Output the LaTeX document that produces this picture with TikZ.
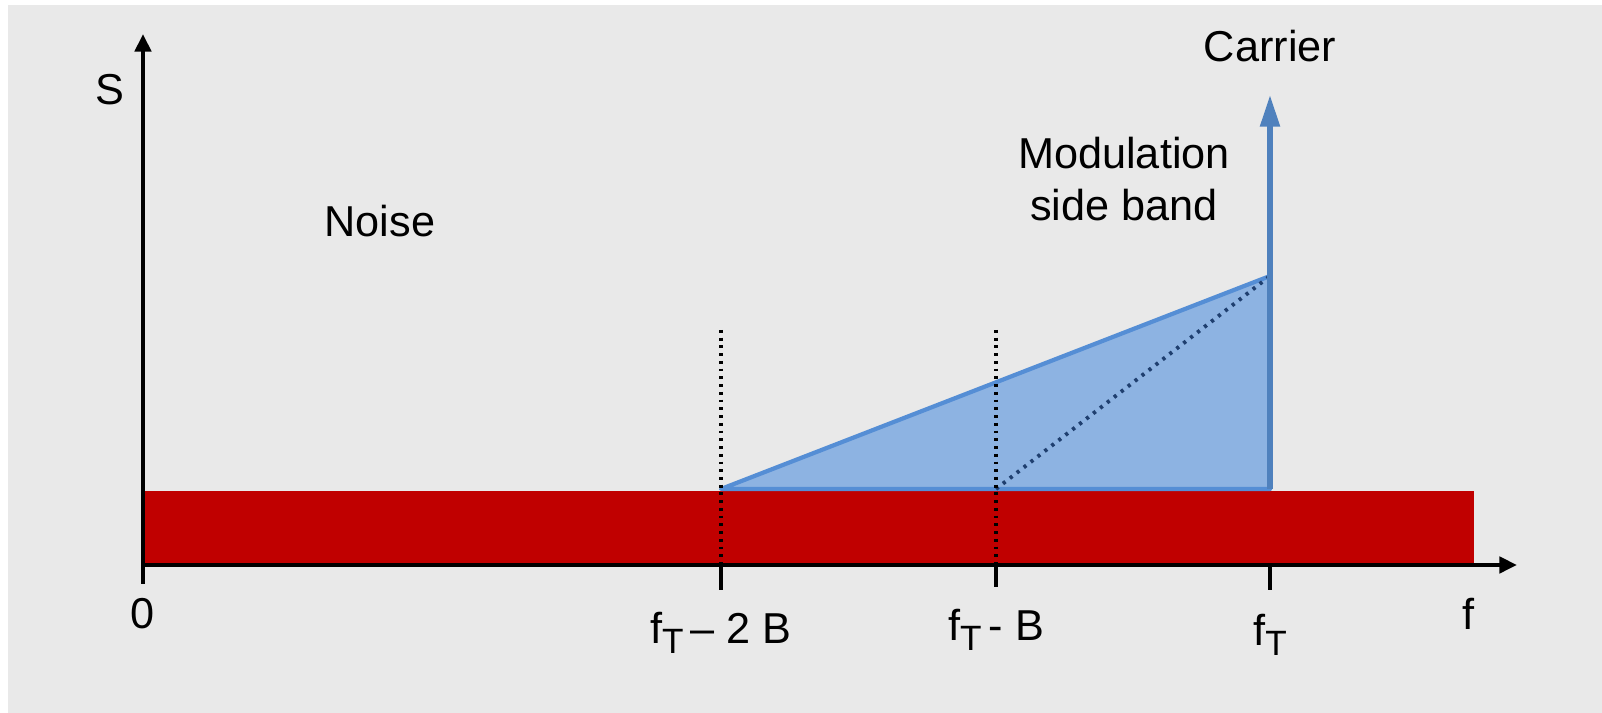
\documentclass[tikz,border=0pt]{standalone}
\usepackage{fontspec}
\setmainfont{Liberation Sans}
\usetikzlibrary{arrows.meta}
\definecolor{bg}{HTML}{E9E9E9}
\definecolor{noisered}{HTML}{C00000}
\definecolor{bandfill}{HTML}{8DB3E2}
\definecolor{bandline}{HTML}{558ED5}
\definecolor{carrierblue}{HTML}{4F81BD}
\definecolor{darkdot}{HTML}{1F3F6F}
\newcommand{\subT}{\raisebox{-0.45ex}{\fontsize{10}{11}\selectfont T}}
\tikzset{
  lbl/.style={font=\fontsize{12.3}{15}\selectfont, inner sep=0pt, anchor=center},
  axisline/.style={line width=1.1pt, black},
  tickline/.style={line width=0.9pt, black},
  guide/.style={line width=1.1pt, black, dash pattern=on 0.8pt off 1.4pt},
}
\begin{document}
\begin{tikzpicture}[x=0.01cm,y=-0.01cm]
\useasboundingbox (0,0) rectangle (1602,713);
\fill[white] (0,0) rectangle (1602,713);
\fill[bg] (8,5) rectangle (1602,713);
% noise band
\fill[noisered] (143,491) rectangle (1474,565);
% coordinates
\coordinate (o) at (143,565);
\coordinate (ytop) at (143,34);
\coordinate (ybot) at (143,584);
\coordinate (xend) at (1517,565);
\coordinate (a) at (721,489);
\coordinate (b) at (996,489);
\coordinate (c) at (1270,489);
\coordinate (peak) at (1270,276);
\coordinate (ctip) at (1270,95);
% side band
\filldraw[fill=bandfill, draw=bandline, line width=1.2pt, line join=round] (a) -- (peak) -- (c) -- cycle;
\draw[darkdot, line width=1.1pt, dash pattern=on 0.9pt off 1.6pt] (b) -- (peak);
% carrier
\draw[carrierblue, line width=1.5pt, -{Triangle[length=9pt,width=5.4pt]}] (c) -- (ctip);
% dotted guides
\coordinate (ga) at (721,330);
\coordinate (gb) at (996,330);
\coordinate (ga2) at (721,565);
\coordinate (gb2) at (996,565);
\draw[guide] (ga) -- (ga2);
\draw[guide] (gb) -- (gb2);
% axes
\draw[axisline, -{Triangle[length=5pt,width=4.6pt]}] (ybot) -- (ytop);
\draw[axisline, -{Triangle[length=5pt,width=4.6pt]}] (o) -- (xend);
% ticks
\coordinate (t1) at (721,565); \coordinate (t1b) at (721,590);
\coordinate (t2) at (996,565); \coordinate (t2b) at (996,587);
\coordinate (t3) at (1270,565); \coordinate (t3b) at (1270,590);
\draw[tickline] (t1) -- (t1b);
\draw[tickline] (t2) -- (t2b);
\draw[tickline] (t3) -- (t3b);
% labels
\node[lbl] (S) at (110,90) {S};
\node[lbl] (carrier) at (1270,46) {Carrier};
\node[lbl, align=center] (mod) at (1124,179) {Modulation\\side band};
\node[lbl] (noise) at (380,221) {Noise};
\node[lbl] (zero) at (143,614) {0};
\node[lbl] (l1) at (721,633) {f\subT\,– 2 B};
\node[lbl] (l2) at (996,630) {f\subT\,- B};
\node[lbl] (l3) at (1270,635) {f\subT};
\node[lbl] (f) at (1468,614) {f};
\end{tikzpicture}
\end{document}
